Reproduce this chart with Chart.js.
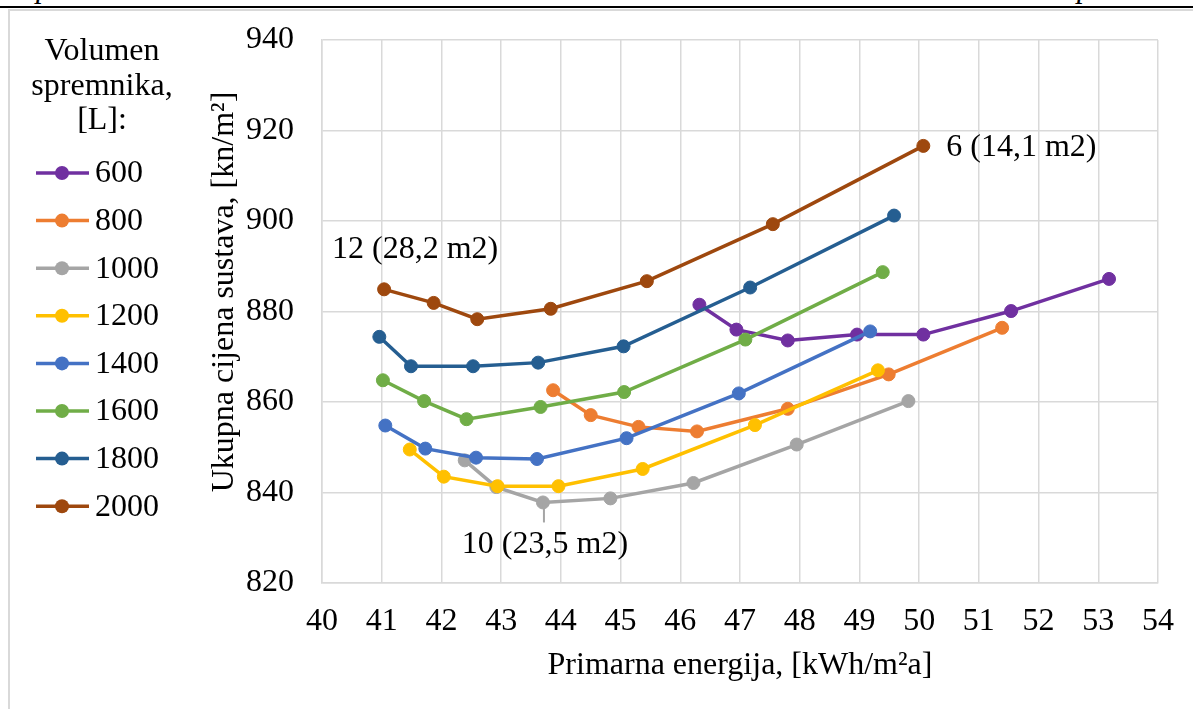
<!DOCTYPE html>
<html>
<head>
<meta charset="utf-8">
<script src="https://cdn.jsdelivr.net/npm/chart.js@4/dist/chart.umd.min.js"></script>
<style>
    html, body { margin: 0; padding: 0; background: #fff; overflow: hidden; }
    #wrap { position: relative; width: 1193px; height: 709px; }
    #topRule { position: absolute; left: 0; top: 6px; width: 1193px; height: 2px; background: #000; }
    #frame { position: absolute; left: 8px; top: 9px; width: 1300px; height: 800px;
             border-left: 2px solid #d9d9d9; border-top: 2px solid #d9d9d9; }
    .frag { position: absolute; top: -29px; font: italic 31px "Liberation Serif"; line-height: 31px; color: #000; }
    canvas { position: absolute; left: 0; top: 0; }
</style>
</head>
<body>
<div id="wrap">
    <span class="frag" style="left: 36px;">p</span>
    <span class="frag" style="left: 1077px;">p</span>
    <div id="topRule"></div>
    <div id="frame"></div>
    <canvas id="chart" width="1193" height="709"></canvas>
</div>
<script>
// Series: tank volume [L] (primary energy, total cost)
const seriesNames = ['600', '800', '1000', '1200', '1400', '1600', '1800', '2000'];
const seriesColors = ['#7030A0', '#ED7D31', '#A5A5A5', '#FFC000', '#4472C4', '#70AD47', '#255E91', '#9E480E'];

const energy600 = [46.32, 46.94, 47.80, 48.96, 50.07, 51.54, 53.18];
const cost600 = [881.5, 876.0, 873.6, 874.9, 874.9, 880.1, 887.2];
const energy800 = [43.87, 44.50, 45.30, 46.28, 47.80, 49.49, 51.39];
const cost800 = [862.6, 857.1, 854.5, 853.5, 858.5, 866.1, 876.4];
const energy1000 = [42.39, 42.92, 43.70, 44.83, 46.22, 47.95, 49.82];
const cost1000 = [847.1, 841.2, 837.8, 838.7, 842.1, 850.6, 860.2];
const energy1200 = [41.47, 42.04, 42.94, 43.96, 45.37, 47.25, 49.31];
const cost1200 = [849.5, 843.5, 841.4, 841.4, 845.2, 854.9, 867.0];
const energy1400 = [41.06, 41.73, 42.58, 43.60, 45.10, 46.98, 49.18];
const cost1400 = [854.8, 849.7, 847.7, 847.4, 852.0, 861.9, 875.6];
const energy1600 = [41.02, 41.71, 42.42, 43.66, 45.06, 47.09, 49.39];
const cost1600 = [864.8, 860.2, 856.2, 858.9, 862.2, 873.8, 888.7];
const energy1800 = [40.96, 41.49, 42.53, 43.62, 45.05, 47.17, 49.58];
const cost1800 = [874.4, 867.9, 867.9, 868.7, 872.3, 885.3, 901.2];
const energy2000 = [41.04, 41.87, 42.60, 43.83, 45.44, 47.55, 50.07];
const cost2000 = [884.9, 881.9, 878.3, 880.6, 886.7, 899.3, 916.6];

const energySets = [energy600, energy800, energy1000, energy1200, energy1400, energy1600, energy1800, energy2000];
const costSets = [cost600, cost800, cost1000, cost1200, cost1400, cost1600, cost1800, cost2000];

// axis range
const xMin = 40, xMax = 54, xStep = 1;
const yMin = 820, yMax = 940, yStep = 20;

const legendTitle = ['Volumen', 'spremnika,', '[L]:'];
const xTitle = 'Primarna energija, [kWh/m²a]';
const yTitle = 'Ukupna cijena sustava, [kn/m²]';

// point labels: [series index, point index, text]
const pointNotes = [
    [7, 0, '12 (28,2 m2)'],
    [7, 6, '6 (14,1 m2)'],
    [2, 2, '10 (23,5 m2)']
];

const FONT = '"Liberation Serif", "Times New Roman", serif';
const FS = 32;

const datasets = seriesNames.map((name, i) => ({
    label: name,
    data: energySets[i].map((x, j) => ({ x: x, y: costSets[i][j] })),
    showLine: true,
    borderColor: seriesColors[i],
    backgroundColor: seriesColors[i],
    borderWidth: 3.5,
    pointRadius: 6.5,
    pointBorderWidth: 1,
    pointBackgroundColor: seriesColors[i],
    pointBorderColor: seriesColors[i],
    tension: 0,
    order: seriesNames.length - i   // later series on top, like Excel
}));

const extrasPlugin = {
    id: 'extras',
    afterDraw(chart) {
        const ctx = chart.ctx;
        ctx.save();
        ctx.fillStyle = '#000';
        ctx.font = FS + 'px ' + FONT;

        // legend title + entries
        ctx.textAlign = 'center';
        ctx.textBaseline = 'middle';
        const titleY = [52, 87, 121];
        legendTitle.forEach((t, k) => ctx.fillText(t, 102, titleY[k]));

        ctx.textAlign = 'left';
        seriesNames.forEach((name, i) => {
            const y = 173 + i * 47.6;
            ctx.strokeStyle = seriesColors[i];
            ctx.lineWidth = 3.5;
            ctx.beginPath();
            ctx.moveTo(36, y);
            ctx.lineTo(89, y);
            ctx.stroke();
            ctx.fillStyle = seriesColors[i];
            ctx.beginPath();
            ctx.arc(62, y, 7, 0, Math.PI * 2);
            ctx.fill();
            ctx.fillStyle = '#000';
            ctx.fillText(name, 95, y + 1);
        });

        // y axis title
        ctx.save();
        ctx.translate(225, 292);
        ctx.rotate(-Math.PI / 2);
        ctx.textAlign = 'center';
        ctx.fillText(yTitle, 0, 0);
        ctx.restore();

        // point notes
        pointNotes.forEach(([si, pi, text]) => {
            const pt = chart.getDatasetMeta(si).data[pi];
            if (si === 7 && pi === 0) {
                ctx.textAlign = 'center';
                ctx.fillText(text, pt.x + 31, pt.y - 40);
            } else if (si === 7) {
                ctx.textAlign = 'left';
                ctx.fillText(text, pt.x + 23, pt.y + 2);
            } else {
                ctx.strokeStyle = '#A5A5A5';
                ctx.lineWidth = 2;
                ctx.beginPath();
                ctx.moveTo(pt.x + 1, pt.y);
                ctx.lineTo(pt.x + 1, pt.y + 20);
                ctx.stroke();
                ctx.textAlign = 'center';
                ctx.fillText(text, pt.x + 2, pt.y + 42);
            }
        });
        ctx.restore();
    }
};

new Chart(document.getElementById('chart'), {
    type: 'scatter',
    data: { datasets: datasets },
    options: {
        responsive: false,
        animation: false,
        devicePixelRatio: 1,
        layout: { padding: { left: 200, top: 40, right: 35, bottom: 0 } },
        plugins: {
            legend: { display: false },
            tooltip: { enabled: false }
        },
        scales: {
            x: {
                type: 'linear',
                min: xMin, max: xMax,
                afterFit: s => { s.height = 126; },
                ticks: { stepSize: xStep, padding: 19, color: '#000', font: { family: FONT, size: FS } },
                grid: { color: '#d9d9d9', lineWidth: 1.5, drawTicks: false },
                border: { color: '#d9d9d9', width: 1.5 },
                title: { display: true, text: xTitle, color: '#000', font: { family: FONT, size: FS }, padding: { top: 0, bottom: 24 } }
            },
            y: {
                type: 'linear',
                min: yMin, max: yMax,
                // fixed width; drop the label padding so the plot top sits at 40px
                afterFit: s => { s.width = 122; s.paddingTop = 0; s.paddingBottom = 0; },
                ticks: { stepSize: yStep, padding: 28, color: '#000', font: { family: FONT, size: FS } },
                grid: { color: '#d9d9d9', lineWidth: 1.5, drawTicks: false },
                border: { color: '#d9d9d9', width: 1.5 }
            }
        }
    },
    plugins: [extrasPlugin]
});
</script>
</body>
</html>
